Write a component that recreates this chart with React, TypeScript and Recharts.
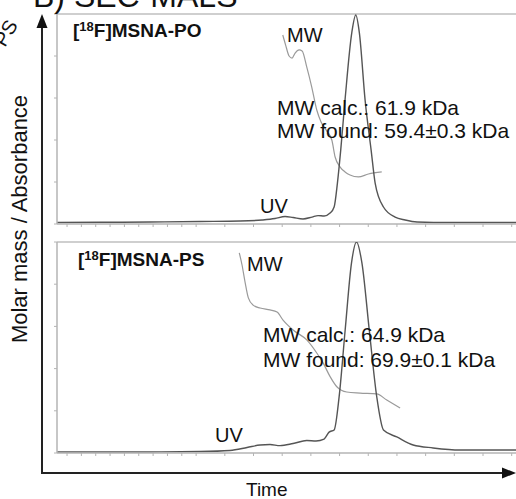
import React from 'react'
import { LineChart, Line, XAxis, YAxis, ReferenceLine } from 'recharts'

// time axis (arbitrary units), signal axis in % of panel height
const timeTicks = [0, 1, 2, 3, 4, 5, 6, 7, 8, 9, 10, 11, 12, 13, 14, 15, 16, 17, 18, 19, 20, 21, 22, 23, 24, 25, 26, 27, 28, 29, 30, 31]
const signalTicks = [0, 20, 40, 60, 80, 100]

// [18F]MSNA-PO
const poUvTime = [-0.7, 2.3, 5.79, 9.27, 12.06, 13.6, 14.5, 15.2, 15.76, 16.45, 17.08, 17.5, 17.92, 18.34, 18.62, 18.85, 19.08, 19.38, 19.85, 20.13, 20.38, 20.78, 21.2, 21.48, 22.06, 22.87, 23.57, 24.4, 26.71, 31.3]
const poUvSignal = [0.7, 0.8, 0.95, 1.2, 1.4, 1.9, 2.6, 3.6, 3.1, 2.4, 3.3, 4.0, 3.8, 5.2, 8.1, 19.5, 35.2, 59, 91, 99.5, 91, 59, 35.2, 19.5, 8.1, 3.3, 1.9, 0.95, 0.7, 0.7]
const poMwTime = [15.04, 15.24, 15.48, 15.69, 15.9, 16.18, 16.39, 16.71, 17.06, 17.41, 17.71, 18.06, 18.46, 18.69, 19.04, 19.38, 19.73, 20.31, 21.01, 21.94]
const poMwSignal = [90, 85.2, 80, 79, 81.4, 82.9, 82.4, 74.8, 65.2, 54.3, 48.6, 44.8, 40, 31.9, 27.1, 24.8, 23.3, 22.4, 23.8, 24.8]

// [18F]MSNA-PS
const psUvTime = [-0.7, 5.79, 9.27, 11.36, 12.55, 13.46, 14.15, 14.85, 15.76, 16.71, 17.36, 17.92, 18.27, 18.62, 18.97, 19.39, 19.83, 20.18, 20.56, 21.07, 21.59, 22.06, 22.99, 24.13, 25.52, 27.4, 31.3]
const psUvSignal = [0.5, 0.5, 0.7, 1.2, 2.6, 3.8, 4.0, 3.5, 4.5, 5.9, 5.7, 6.6, 9.9, 10.9, 26.7, 58.3, 90, 100, 90, 58.3, 26.7, 10.9, 7.6, 3.8, 2.4, 1.4, 1.4]
const psMwTime = [12.01, 12.2, 12.41, 12.64, 12.97, 13.46, 14.15, 14.64, 15.06, 15.76, 16.71, 17.41, 17.85, 18.34, 18.81, 19.5, 20.43, 21.59, 22.29, 23.22]
const psMwSignal = [94.8, 89.1, 81, 73.5, 70.1, 68.7, 67.8, 66.8, 63, 58.3, 53.6, 47.4, 42.7, 36.2, 31.4, 28.9, 28.4, 28, 25.1, 21.3]

const toRows = (t: number[], v: number[]) => t.map((x, i) => ({ t: x, v: v[i] }))

const poUv = toRows(poUvTime, poUvSignal)
const poMw = toRows(poMwTime, poMwSignal)
const psUv = toRows(psUvTime, psUvSignal)
const psMw = toRows(psMwTime, psMwSignal)

const font = 'Arial, "Liberation Sans", Helvetica, sans-serif'
const noLabel = () => <g />

function Panel({ uv, mw, top, height }: { uv: { t: number; v: number }[]; mw: { t: number; v: number }[]; top: number; height: number }) {
  return (
    <div style={{ position: 'absolute', left: 0, top }}>
      <LineChart width={516} height={height} margin={{ top: 14, right: 0, bottom: 0, left: 56 }}>
        <XAxis
          type="number"
          dataKey="t"
          domain={[-0.7, 31.3]}
          ticks={timeTicks}
          allowDataOverflow
          height={16}
          tick={noLabel}
          tickSize={3}
          axisLine={{ stroke: '#b4b4b4', strokeWidth: 1.5 }}
          tickLine={{ stroke: '#b4b4b4' }}
        />
        <YAxis
          type="number"
          dataKey="v"
          domain={[0, 100]}
          ticks={signalTicks}
          allowDataOverflow
          width={1}
          tick={noLabel}
          tickSize={3}
          axisLine={{ stroke: '#b4b4b4', strokeWidth: 1.5 }}
          tickLine={{ stroke: '#b4b4b4' }}
        />
        <ReferenceLine y={100} stroke="#cfcfcf" strokeWidth={2} />
        <Line data={mw} dataKey="v" type="monotone" stroke="#9a9a9a" strokeWidth={1.2} dot={false} isAnimationActive={false} />
        <Line data={uv} dataKey="v" type="monotone" stroke="#555" strokeWidth={1.4} dot={false} isAnimationActive={false} />
      </LineChart>
    </div>
  )
}

export default function App() {
  return (
    <div style={{ position: 'absolute', left: 0, top: 0, width: 516, height: 499, background: '#fff', overflow: 'hidden', fontFamily: font }}>
      <Panel uv={poUv} mw={poMw} top={0} height={240} />
      <Panel uv={psUv} mw={psMw} top={228} height={241} />

      {/* outer axes + labels */}
      <svg width={516} height={499} style={{ position: 'absolute', left: 0, top: 0, pointerEvents: 'none' }} fontFamily={font}>
        <text x={33} y={7} fontSize={32} fill="#111">B) SEC-MALS</text>
        <text x={0} y={0} fontSize={20} fill="#111" transform="translate(5 48) rotate(-60)">PS</text>

        <line x1={42} y1={26} x2={42} y2={474} stroke="#222" strokeWidth={2} />
        <polygon points="42,14 36.5,28 47.5,28" fill="#111" />
        <line x1={41} y1={473} x2={504} y2={473} stroke="#222" strokeWidth={2} />
        <polygon points="516,473 502,467.5 502,478.5" fill="#111" />
        <text x={0} y={0} fontSize={22} fill="#111" textAnchor="middle" transform="translate(27 219) rotate(-90)">Molar mass / Absorbance</text>
        <text x={246} y={496} fontSize={19} fill="#111">Time</text>

        {/* top panel */}
        <text x={73} y={37} fontSize={19} fontWeight="bold" fill="#111">[<tspan fontSize={13} dy={-6}>18</tspan><tspan dy={6}>F]MSNA-PO</tspan></text>
        <text x={287} y={42} fontSize={20} fill="#111">MW</text>
        <text x={277} y={115} fontSize={21} fill="#111">MW calc.: 61.9 kDa</text>
        <text x={277} y={138} fontSize={21} fill="#111">MW found: 59.4±0.3 kDa</text>
        <text x={260} y={213} fontSize={20} fill="#111">UV</text>

        {/* bottom panel */}
        <text x={78} y={266} fontSize={19} fontWeight="bold" fill="#111">[<tspan fontSize={13} dy={-6}>18</tspan><tspan dy={6}>F]MSNA-PS</tspan></text>
        <text x={247} y={271} fontSize={20} fill="#111">MW</text>
        <text x={263} y={342} fontSize={21} fill="#111">MW calc.: 64.9 kDa</text>
        <text x={263} y={367} fontSize={21} fill="#111">MW found: 69.9±0.1 kDa</text>
        <text x={215} y={442} fontSize={20} fill="#111">UV</text>
      </svg>
    </div>
  )
}
